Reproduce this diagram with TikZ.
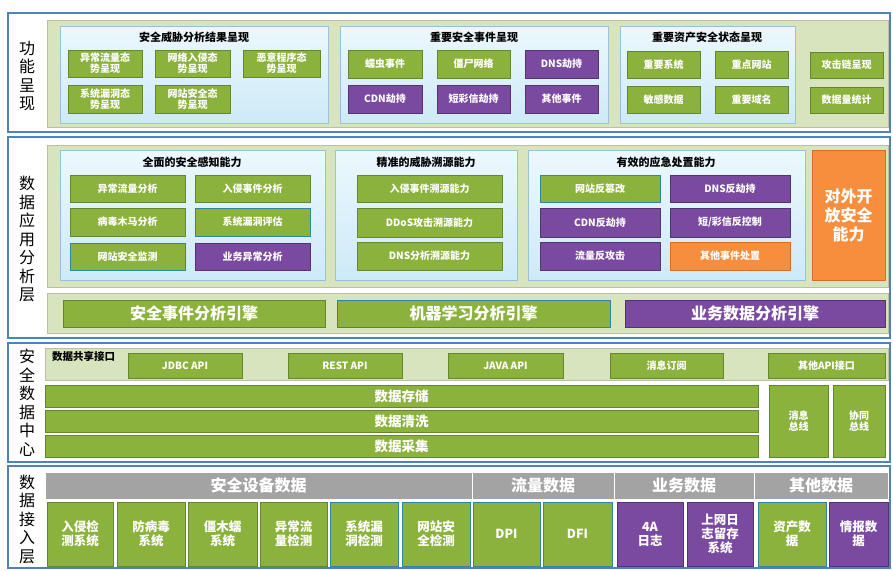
\documentclass[tikz,border=0pt]{standalone}
\usepackage{fontspec}
\setmainfont{Noto Sans CJK SC}
\definecolor{gfill}{RGB}{140,178,62}
\definecolor{gborder}{RGB}{100,135,45}
\definecolor{pfill}{RGB}{122,74,160}
\definecolor{pborder}{RGB}{84,50,115}
\definecolor{ofill}{RGB}{247,142,62}
\definecolor{oborder}{RGB}{215,110,40}
\definecolor{tborder}{RGB}{49,133,156}
\definecolor{lblue}{RGB}{205,234,247}
\definecolor{lbtop}{RGB}{236,248,253}
\definecolor{lbborder}{RGB}{150,195,215}
\definecolor{olive}{RGB}{216,228,190}
\definecolor{grayh}{RGB}{163,163,163}
\definecolor{layerblue}{RGB}{79,129,189}
\newcommand{\bx}[7]{\node[#6, anchor=north west, minimum width={(#4-#2)*1pt}, minimum height={(#5-#3)*1pt}] (#1) at (#2,#3) {#7};}
\tikzset{
  btn/.style={draw=gborder, fill=gfill, line width=0.8pt, inner sep=1pt, outer sep=0pt, text=white, font=\bfseries\fontsize{10}{11}\selectfont, align=center},
  gb/.style={btn},
  pb/.style={btn, fill=pfill, draw=pborder},
  ob/.style={btn, fill=ofill, draw=oborder},
  tb/.style={btn, draw=tborder},
  big/.style={font=\bfseries\fontsize{16}{19}\selectfont},
  mid/.style={font=\bfseries\fontsize{12.5}{14}\selectfont},
  bar/.style={font=\bfseries\fontsize{13.5}{15}\selectfont},
  hdr/.style={fill=grayh, draw=white, line width=1pt, inner sep=0pt, outer sep=0pt, text=white, font=\bfseries\fontsize{16}{18}\selectfont},
  layer/.style={draw=layerblue, line width=1.8pt, fill=white, inner sep=0pt, outer sep=0pt},
  panel/.style={fill=olive, draw=olive!85!black, line width=0.4pt, inner sep=0pt, outer sep=0pt},
  lbox/.style={top color=lbtop, bottom color=lblue, draw=lbborder, line width=0.8pt, inner sep=0pt, outer sep=0pt},
  ttl/.style={font=\bfseries\fontsize{11}{12}\selectfont, text=black, inner sep=0pt},
  lbl/.style={font=\fontsize{16}{18.5}\selectfont, align=center, text=black, inner sep=0pt},
}
\begin{document}
\begin{tikzpicture}[x=1pt,y=-1pt]
\useasboundingbox (0,0) rectangle (893,570);
% ---------------- Layer 1
\bx{L1}{8}{13}{890}{132}{layer}{}
\node[lbl] (l1) at (27,76) {功\\能\\呈\\现};
\bx{P1}{47}{20}{888}{127}{panel}{}
\bx{BA}{60}{26}{328}{123}{lbox}{}
\node[ttl] (tA) at (194,37) {安全威胁分析结果呈现};
\bx{a1}{68}{50}{142}{77}{gb}{异常流量态\\势呈现}
\bx{a2}{155}{50}{230}{77}{gb}{网络入侵态\\势呈现}
\bx{a3}{243}{50}{320}{77}{gb}{恶意程序态\\势呈现}
\bx{a4}{68}{85}{142}{113}{gb}{系统漏洞态\\势呈现}
\bx{a5}{155}{85}{230}{113}{gb}{网站安全态\\势呈现}
\bx{BB}{340}{26}{608}{123}{lbox}{}
\node[ttl] (tB) at (474,37) {重要安全事件呈现};
\bx{b1}{348}{50}{422}{78}{gb}{蠕虫事件}
\bx{b2}{437}{50}{510}{78}{gb}{僵尸网络}
\bx{b3}{525}{50}{598}{78}{pb}{DNS劫持}
\bx{b4}{348}{85}{422}{113}{pb}{CDN劫持}
\bx{b5}{437}{85}{510}{113}{pb}{短彩信劫持}
\bx{b6}{525}{85}{598}{113}{pb}{其他事件}
\bx{BC}{620}{26}{795}{123}{lbox}{}
\node[ttl] (tC) at (707,37) {重要资产安全状态呈现};
\bx{c1}{627}{51}{700}{78}{gb}{重要系统}
\bx{c2}{715}{51}{788}{78}{gb}{重点网站}
\bx{c3}{627}{86}{700}{113}{gb}{敏感数据}
\bx{c4}{715}{86}{788}{113}{gb}{重要域名}
\bx{c5}{810}{52}{883}{78}{gb}{攻击链呈现}
\bx{c6}{810}{87}{883}{113}{gb}{数据量统计}
% ---------------- Layer 2
\bx{L2}{8}{137}{890}{338}{layer}{}
\node[lbl] (l2) at (27,239) {数\\据\\应\\用\\分\\析\\层};
\bx{P2}{47}{145}{888}{287}{panel}{}
\bx{P2b}{47}{293}{888}{333}{panel}{}
\bx{BD}{60}{150}{325}{280}{lbox}{}
\node[ttl] (tD) at (192,162) {全面的安全感知能力};
\bx{d1}{70}{175}{185}{202}{gb}{异常流量分析}
\bx{d2}{195}{175}{310}{202}{gb}{入侵事件分析}
\bx{d3}{70}{208}{185}{236}{gb}{病毒木马分析}
\bx{d4}{195}{208}{310}{236}{tb}{系统漏洞评估}
\bx{d5}{70}{243}{185}{270}{tb}{网站安全监测}
\bx{d6}{195}{243}{310}{270}{pb}{业务异常分析}
\bx{BE}{335}{150}{517}{280}{lbox}{}
\node[ttl] (tE) at (426,162) {精准的威胁溯源能力};
\bx{e1}{357}{175}{502}{202}{gb}{入侵事件溯源能力}
\bx{e2}{357}{208}{502}{237}{gb}{DDoS攻击溯源能力}
\bx{e3}{357}{242}{502}{270}{gb}{DNS分析溯源能力}
\bx{BF}{528}{150}{805}{280}{lbox}{}
\node[ttl] (tF) at (666,162) {有效的应急处置能力};
\bx{f1}{540}{175}{660}{202}{tb}{网站反篡改}
\bx{f2}{670}{175}{790}{202}{pb}{DNS反劫持}
\bx{f3}{540}{208}{660}{237}{pb}{CDN反劫持}
\bx{f4}{670}{208}{790}{237}{pb}{短/彩信反控制}
\bx{f5}{540}{242}{660}{270}{pb}{流量反攻击}
\bx{f6}{670}{242}{790}{270}{ob}{其他事件处置}
\bx{g1}{812}{150}{885}{280}{ob,big}{对外开\\放安全\\能力}
\bx{en1}{63}{300}{325}{327}{gb,big}{安全事件分析引擎}
\bx{en2}{337}{300}{610}{327}{tb,big}{机器学习分析引擎}
\bx{en3}{625}{300}{885}{327}{pb,big}{业务数据分析引擎}
% ---------------- Layer 3
\bx{L3}{8}{343}{890}{462}{layer}{}
\node[lbl] (l3) at (27,403) {安\\全\\数\\据\\中\\心};
\bx{P3}{45}{348}{888}{380}{panel}{}
\node[ttl, anchor=north west, font=\bfseries\fontsize{10.5}{12}\selectfont] (share) at (52,351) {数据共享接口};
\bx{api1}{128}{353}{242}{378}{gb}{JDBC API}
\bx{api2}{288}{353}{402}{378}{gb}{REST API}
\bx{api3}{448}{353}{563}{378}{gb}{JAVA API}
\bx{api4}{610}{353}{723}{378}{gb}{消息订阅}
\bx{api5}{768}{353}{885}{378}{gb}{其他API接口}
\bx{s1}{45}{385}{758}{407}{gb,bar}{数据存储}
\bx{s2}{45}{410}{758}{432}{gb,bar}{数据清洗}
\bx{s3}{45}{435}{758}{457}{gb,bar}{数据采集}
\bx{bus1}{769}{385}{828}{457}{gb}{消息\\总线}
\bx{bus2}{833}{385}{885}{457}{gb}{协同\\总线}
% ---------------- Layer 4
\bx{L4}{8}{466}{890}{568}{layer}{}
\node[lbl] (l4) at (27,519) {数\\据\\接\\入\\层};
\bx{h1}{45}{472}{472}{499}{hdr}{安全设备数据}
\bx{h2}{472}{472}{614}{499}{hdr}{流量数据}
\bx{h3}{614}{472}{754}{499}{hdr}{业务数据}
\bx{h4}{754}{472}{888}{499}{hdr}{其他数据}
\bx{k1}{47}{502}{113}{566}{gb,mid}{入侵检\\测系统}
\bx{k2}{117}{502}{185}{566}{gb,mid}{防病毒\\系统}
\bx{k3}{188}{502}{257}{566}{gb,mid}{僵木蠕\\系统}
\bx{k4}{260}{502}{327}{566}{gb,mid}{异常流\\量检测}
\bx{k5}{330}{502}{398}{566}{tb,mid}{系统漏\\洞检测}
\bx{k6}{402}{502}{470}{566}{tb,mid}{网站安\\全检测}
\bx{k7}{473}{502}{540}{566}{tb,mid}{DPI}
\bx{k8}{543}{502}{612}{566}{tb,mid}{DFI}
\bx{k9}{617}{502}{683}{566}{pb,mid}{4A\\日志}
\bx{k10}{687}{502}{753}{566}{pb,mid}{上网日\\志留存\\系统}
\bx{k11}{758}{502}{826}{566}{tb,mid}{资产数\\据}
\bx{k12}{829}{502}{888}{566}{pb,mid}{情报数\\据}
\end{tikzpicture}
\end{document}
